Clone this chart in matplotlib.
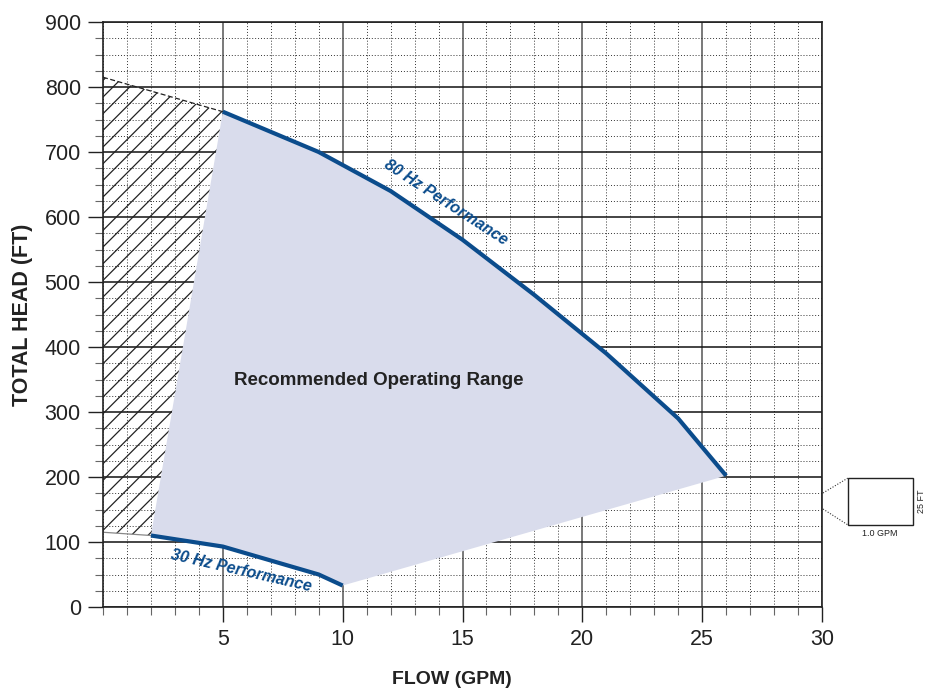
import matplotlib
matplotlib.use("Agg")
import matplotlib.pyplot as plt
from matplotlib.patches import Polygon, Rectangle
from matplotlib.lines import Line2D
import numpy as np

plt.rcParams['font.family'] = ['Liberation Sans', 'DejaVu Sans']
plt.rcParams['hatch.linewidth'] = 0.9

# Data
flow_80hz = [5, 9, 10, 12, 15, 18, 21, 24, 26]
head_80hz = [762, 700, 680, 640, 565, 480, 390, 290, 202]
flow_30hz = [2, 5, 9, 10]
head_30hz = [110, 93, 50, 33]
hatch_flow = [0, 5, 2, 0]
hatch_head = [815, 762, 110, 115]
xticks = [5, 10, 15, 20, 25, 30]
yticks = [0, 100, 200, 300, 400, 500, 600, 700, 800, 900]

blue = '#0b4c8c'
fill_col = '#d9dcec'

fig = plt.figure(figsize=(9.3, 6.9), dpi=100)
ax = fig.add_axes([103/930, 1-607/690, (822-103)/930, (607-22)/690])
ax.set_xlim(0, 30)
ax.set_ylim(0, 900)

# grid
ax.set_xticks(xticks)
ax.set_yticks(yticks)
ax.set_xticks(np.arange(0, 31, 1), minor=True)
ax.set_yticks(np.arange(0, 901, 25), minor=True)
ax.grid(which='minor', color='#333333', linestyle=(0, (1, 2)), linewidth=0.7)
ax.grid(which='major', axis='y', color='#111111', linestyle='-', linewidth=1.1)
ax.grid(which='major', axis='x', color='#555555', linestyle='-', linewidth=1.1)
ax.set_axisbelow(True)

ax.tick_params(which='major', direction='out', length=11, width=1, labelsize=15.5, colors='#222222', pad=5)
ax.tick_params(which='minor', direction='out', length=6, width=0.8, color='#666666')
for s in ax.spines.values():
    s.set_color('#222222')
    s.set_linewidth(1.2)
ax.set_xticklabels([str(t) for t in xticks])

# shaded operating region
region_x = flow_80hz + flow_30hz[::-1]
region_y = head_80hz + head_30hz[::-1]
ax.add_patch(Polygon(list(zip(region_x, region_y)), closed=True, facecolor=fill_col, edgecolor='none', zorder=1.5))

# hatched region
ax.add_patch(Polygon(list(zip(hatch_flow, hatch_head)), closed=True, facecolor='none', edgecolor='#222222',
                     hatch='//', linewidth=0, zorder=1.6))
ax.plot(hatch_flow[:2], hatch_head[:2], color='#222222', linestyle=(0, (4, 2)), linewidth=0.9, zorder=2)
ax.plot([hatch_flow[3], hatch_flow[2]], [hatch_head[3], hatch_head[2]], color='#888888', linewidth=0.9, zorder=2)

# curves
ax.plot(flow_80hz, head_80hz, color=blue, linewidth=3, solid_capstyle='butt', zorder=3)
ax.plot(flow_30hz, head_30hz, color=blue, linewidth=3, solid_capstyle='butt', zorder=3)

ax.text(14.3, 622, '80 Hz Performance', color=blue, fontsize=11.5, fontweight='bold', style='italic',
        rotation=-33, ha='center', va='center', rotation_mode='anchor', zorder=4)
ax.text(5.75, 55, '30 Hz Performance', color=blue, fontsize=11.5, fontweight='bold', style='italic',
        rotation=-13, ha='center', va='center', rotation_mode='anchor', zorder=4)
ax.text(11.5, 348, 'Recommended Operating Range', color='#222222', fontsize=13.5, fontweight='bold',
        ha='center', va='center', zorder=4)

ax.set_ylabel('TOTAL HEAD (FT)', fontsize=15.5, fontweight='bold', color='#222222')
ax.set_xlabel('FLOW (GPM)', fontsize=14, fontweight='bold', color='#222222')
ax.yaxis.set_label_coords((22 - 103) / (822 - 103), 0.5)
ax.xaxis.set_label_coords((452 - 103) / (822 - 103), -(680 - 607) / (607 - 22))
ax.xaxis.label.set_va('center')
ax.yaxis.label.set_va('center')

# magnified grid cell legend (figure pixel coordinates)
def fx(px):
    return px / 930
def fy(py):
    return 1 - py / 690
fig.add_artist(Rectangle((fx(848), fy(525)), fx(913) - fx(848), fy(478) - fy(525),
                         transform=fig.transFigure, facecolor='white', edgecolor='#222222', linewidth=1))
fig.add_artist(Line2D([fx(823), fx(848)], [fy(493), fy(478)], transform=fig.transFigure,
                      color='#333333', linestyle=(0, (1, 1.5)), linewidth=0.8))
fig.add_artist(Line2D([fx(823), fx(848)], [fy(509), fy(525)], transform=fig.transFigure,
                      color='#333333', linestyle=(0, (1, 1.5)), linewidth=0.8))
fig.text(fx(880), fy(534), '1.0 GPM', fontsize=6.5, ha='center', va='center', color='#222222')
fig.text(fx(921), fy(501), '25 FT', fontsize=6.5, ha='center', va='center', rotation=90, color='#222222')

fig.savefig('out.png', dpi=100)
